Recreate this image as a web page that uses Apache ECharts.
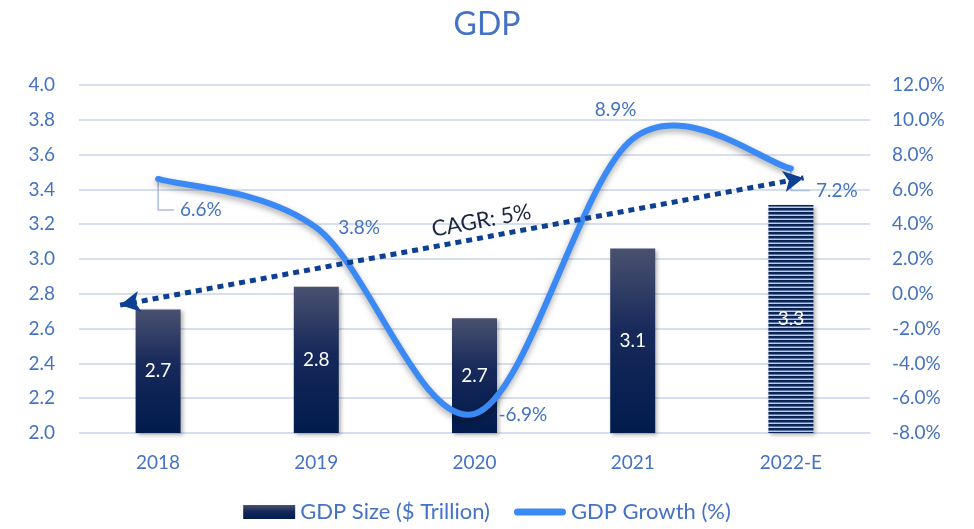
<!DOCTYPE html>
<html>
<head>
<meta charset="utf-8">
<script src="https://cdn.jsdelivr.net/npm/echarts@6/dist/echarts.min.js"></script>
<style>html,body{margin:0;padding:0;background:#fff}#c{width:974px;height:529px}</style>
</head>
<body>
<div id="c"></div>
<script>
const categories = ['2018', '2019', '2020', '2021', '2022-E'];
const gdpSize = [2.71, 2.84, 2.66, 3.06, 3.31];
const gdpGrowth = [6.6, 3.8, -6.9, 8.9, 7.2];
const leftTicks = { min: 2.0, max: 4.0, interval: 0.2 };
const rightTicks = { min: -8, max: 12, interval: 2 };
const cagrStart = [-0.24, 2.735];
const cagrEnd = [4.08, 3.466];
const cagrText = 'CAGR: 5%';

const FONT = 'Lato, "Noto Sans", sans-serif';
const BLUE = '#4472C4';
const LINE_BLUE = '#3A89F5';

// label placement for growth labels (pixel offsets from the point), plus leader line flag
const growthLabelOffsets = [[22, 31, true], [22, 0, false], [24, 1, false], [-38, -29, false], [25, 22, true]];

function stripePattern() {
  const c = document.createElement('canvas');
  c.width = 4; c.height = 4;
  const g = c.getContext('2d');
  g.fillStyle = '#B8CBEA'; g.fillRect(0, 0, 4, 4);
  g.fillStyle = '#0A2457'; g.fillRect(0, 0, 4, 2.5);
  return { image: c, repeat: 'repeat' };
}
const barGrad = new echarts.graphic.LinearGradient(0, 0, 0, 1, [
  { offset: 0, color: '#4A5170' },
  { offset: 0.45, color: '#16295A' },
  { offset: 1, color: '#021B4D' }
]);

const barData = gdpSize.map((v, i) => i === categories.length - 1
  ? { value: v, itemStyle: { color: stripePattern() } }
  : v);

function renderGrowth(params, api) {
  const i = params.dataIndex;
  const pts = gdpGrowth.map((v, k) => api.coord([k, v]));
  const n = pts.length;
  const children = [];
  if (i === 0) {
    let d = 'M' + pts[0][0] + ',' + pts[0][1];
    for (let k = 0; k < n - 1; k++) {
      const p0 = pts[Math.max(k - 1, 0)], p1 = pts[k], p2 = pts[k + 1], p3 = pts[Math.min(k + 2, n - 1)];
      const c1 = [p1[0] + (p2[0] - p0[0]) / 6, p1[1] + (p2[1] - p0[1]) / 6];
      const c2 = [p2[0] - (p3[0] - p1[0]) / 6, p2[1] - (p3[1] - p1[1]) / 6];
      d += 'C' + c1[0] + ',' + c1[1] + ',' + c2[0] + ',' + c2[1] + ',' + p2[0] + ',' + p2[1];
    }
    children.push({
      type: 'path', z2: 1,
      shape: { pathData: d },
      style: { fill: null, stroke: LINE_BLUE, lineWidth: 6, lineCap: 'round', lineJoin: 'round',
        shadowBlur: 6, shadowColor: 'rgba(0,0,0,0.35)', shadowOffsetY: 3 }
    });
  }
  const p = api.coord([api.value(0), api.value(1)]);
  const off = growthLabelOffsets[i];
  const lx = p[0] + off[0], ly = p[1] + off[1];
  if (off[2]) {
    children.push({
      type: 'polyline', z2: 0,
      shape: { points: [[p[0], p[1]], [p[0], ly], [lx - 6, ly]] },
      style: { stroke: '#A9BDE0', lineWidth: 1.5, fill: null }
    });
  }
  children.push({
    type: 'text', z2: 2,
    style: { x: lx, y: ly, text: api.value(1).toFixed(1) + '%', fill: BLUE, fontSize: 19, fontFamily: FONT,
      align: 'left', verticalAlign: 'middle' }
  });
  return { type: 'group', children };
}

const chart = echarts.init(document.getElementById('c'));
chart.setOption({
  animation: false,
  textStyle: { fontFamily: FONT },
  title: {
    text: 'GDP', left: 'center', top: 4,
    textStyle: { color: BLUE, fontSize: 32, fontWeight: 'normal', fontFamily: FONT }
  },
  legend: {
    bottom: 1, left: 'center', itemGap: 24, itemWidth: 52, itemHeight: 14,
    textStyle: { color: BLUE, fontSize: 22, fontFamily: FONT },
    data: [
      { name: 'GDP Size ($ Trillion)', icon: 'rect' },
      { name: 'GDP Growth (%)', icon: 'path://M0,0L0.01,0ZM0,14L0.01,14ZM3.5,3.5H48.5A3.5,3.5,0,0,1,48.5,10.5H3.5A3.5,3.5,0,0,1,3.5,3.5Z',
        itemStyle: { color: LINE_BLUE } }
    ]
  },
  grid: { left: 79, right: 104, top: 85, bottom: 96 },
  xAxis: [
    {
      type: 'category', data: categories,
      axisLine: { show: false }, axisTick: { show: false },
      axisLabel: { color: BLUE, fontSize: 19, margin: 20, fontFamily: FONT }
    },
    { type: 'value', min: -0.5, max: 4.5, show: false }
  ],
  yAxis: [
    {
      type: 'value', min: leftTicks.min, max: leftTicks.max, interval: leftTicks.interval,
      axisLine: { show: false }, axisTick: { show: false },
      axisLabel: { color: BLUE, fontSize: 19, margin: 24, fontFamily: FONT, formatter: v => v.toFixed(1) },
      splitLine: { lineStyle: { color: '#D6DFF0', width: 2 } }
    },
    {
      type: 'value', min: rightTicks.min, max: rightTicks.max, interval: rightTicks.interval,
      axisLine: { show: false }, axisTick: { show: false },
      axisLabel: { color: BLUE, fontSize: 19, margin: 22, fontFamily: FONT, formatter: v => v.toFixed(1) + '%' },
      splitLine: { show: false }
    }
  ],
  series: [
    {
      name: 'GDP Size ($ Trillion)', type: 'bar', data: barData, barWidth: 45,
      itemStyle: { color: barGrad, shadowBlur: 4, shadowColor: 'rgba(0,0,0,0.3)', shadowOffsetX: 2, shadowOffsetY: 2 },
      label: { show: true, position: 'inside', color: '#fff', fontSize: 19, fontFamily: FONT, formatter: p => p.value.toFixed(1) },
      z: 2
    },
    {
      name: 'GDP Growth (%)', type: 'custom', yAxisIndex: 1,
      data: gdpGrowth.map((v, i) => [i, v]),
      encode: { x: 0, y: 1 },
      renderItem: renderGrowth,
      itemStyle: { color: LINE_BLUE },
      clip: false, silent: true,
      z: 4
    },
    {
      name: 'cagr', type: 'line', xAxisIndex: 1, yAxisIndex: 0, data: [], z: 5,
      markLine: {
        silent: true, symbol: ['arrow', 'arrow'], symbolSize: [16, 20],
        lineStyle: { color: '#0D3F92', width: 5, type: [6, 5], cap: 'butt' },
        label: { show: true, position: 'middle', formatter: cagrText, color: '#1B2540', fontSize: 22, fontFamily: FONT, distance: 6, offset: [22, 0] },
        data: [[{ coord: cagrStart }, { coord: cagrEnd }]]
      }
    }
  ]
});
</script>
</body>
</html>
